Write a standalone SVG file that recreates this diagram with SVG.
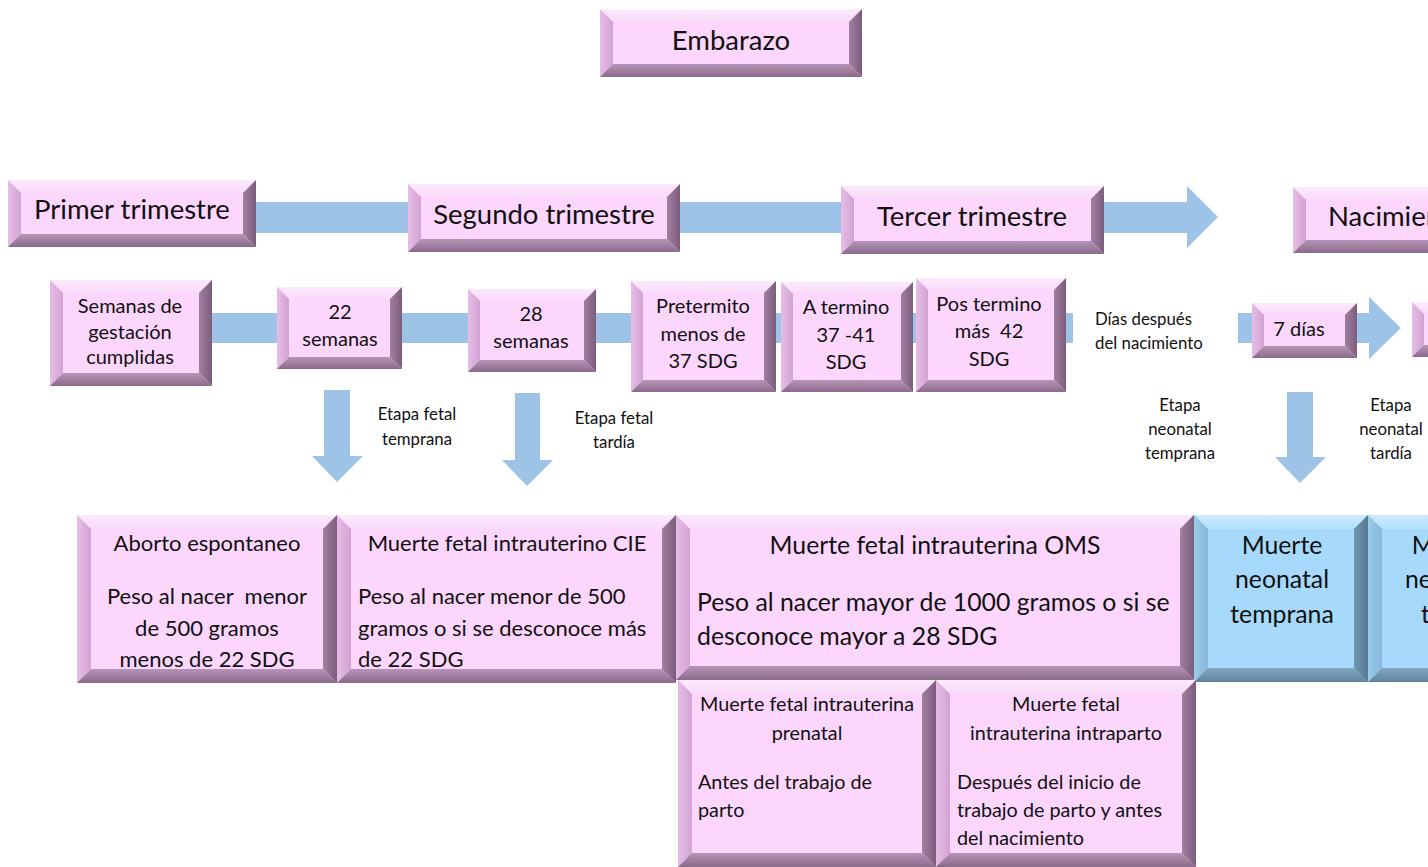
<svg xmlns="http://www.w3.org/2000/svg" width="1428" height="867" viewBox="0 0 1428 867">
<defs>
<linearGradient id="gL" x1="0" y1="0" x2="1" y2="0"><stop offset="0" stop-color="#E6BDE6"/><stop offset="1" stop-color="#D2A2D2"/></linearGradient>
<linearGradient id="gR" x1="0" y1="0" x2="1" y2="0"><stop offset="0" stop-color="#A17FA1"/><stop offset="1" stop-color="#7C5C7C"/></linearGradient>
<linearGradient id="gB" x1="0" y1="0" x2="0" y2="1"><stop offset="0" stop-color="#B794B7"/><stop offset="1" stop-color="#8A6A8A"/></linearGradient>
<linearGradient id="gT" x1="0" y1="0" x2="0" y2="1"><stop offset="0" stop-color="#FCEAFC"/><stop offset="1" stop-color="#FADAFA"/></linearGradient>
<linearGradient id="bL" x1="0" y1="0" x2="1" y2="0"><stop offset="0" stop-color="#9BCBEB"/><stop offset="1" stop-color="#86B7D8"/></linearGradient>
<linearGradient id="bR" x1="0" y1="0" x2="1" y2="0"><stop offset="0" stop-color="#7396B0"/><stop offset="1" stop-color="#557A94"/></linearGradient>
<linearGradient id="bB" x1="0" y1="0" x2="0" y2="1"><stop offset="0" stop-color="#82A7C2"/><stop offset="1" stop-color="#5F849E"/></linearGradient>
<linearGradient id="bT" x1="0" y1="0" x2="0" y2="1"><stop offset="0" stop-color="#CDEBFF"/><stop offset="1" stop-color="#B3E0FD"/></linearGradient>
</defs>
<style>
.face{fill:#FDD6FD}
.t{fill:url(#gT)} .l{fill:url(#gL)} .r{fill:url(#gR)} .b{fill:url(#gB)}
.bface{fill:#A6D9FB}
.bt{fill:url(#bT)} .bl{fill:url(#bL)} .br{fill:url(#bR)} .bb{fill:url(#bB)}
.arr{fill:#9DC3E6}
text{font-family:Lato,"Liberation Sans",sans-serif;fill:#111}
.c{text-anchor:middle}
.f26{font-size:27.5px}
.f19{font-size:20px}
.f15{font-size:16.8px}
.f20{font-size:22px}
.f23{font-size:24.8px}
.f18{font-size:19.8px}
</style>
<rect width="1428" height="867" fill="#FFFFFF"/>
<g id="connectors">
<polygon class="arr" points="8,202 1187,202 1187,186 1218,217 1187,248 1187,233 8,233"/>
<rect class="arr" x="60" y="313" width="1013" height="30"/>
<polygon class="arr" points="1238,313 1369,313 1369,297 1401,328 1369,359 1369,343 1238,343"/>
<polygon class="arr" points="324,390 350,390 350,456 363,456 337,482 312,456 324,456"/>
<polygon class="arr" points="515,393 540,393 540,460 553,460 527,486 502,460 515,460"/>
<polygon class="arr" points="1287,392 1313,392 1313,457 1326,457 1300,483 1275,457 1287,457"/>
</g>
<g id="labels">
<text class="c f15" x="417" y="420">Etapa fetal</text>
<text class="c f15" x="417" y="445">temprana</text>
<text class="c f15" x="614" y="424">Etapa fetal</text>
<text class="c f15" x="614" y="448">tardía</text>
<text class="f15" x="1095" y="325">Días después</text>
<text class="f15" x="1095" y="349">del nacimiento</text>
<text class="c f15" x="1180" y="411">Etapa</text>
<text class="c f15" x="1180" y="435">neonatal</text>
<text class="c f15" x="1180" y="459">temprana</text>
<text class="c f15" x="1391" y="411">Etapa</text>
<text class="c f15" x="1391" y="435">neonatal</text>
<text class="c f15" x="1391" y="459">tardía</text>
</g>
<g id="embarazo">
<rect class="face" x="600" y="9" width="262" height="68"/>
<polygon class="t" points="600,9 862,9 849,22 613,22"/>
<polygon class="l" points="600,9 613,22 613,64 600,77"/>
<polygon class="r" points="862,9 862,77 849,64 849,22"/>
<polygon class="b" points="600,77 613,64 849,64 862,77"/>
<text class="c f26" x="731" y="50">Embarazo</text>
</g>
<g id="primer">
<rect class="face" x="8" y="180" width="248" height="67"/>
<polygon class="t" points="8,180 256,180 243,193 21,193"/>
<polygon class="l" points="8,180 21,193 21,234 8,247"/>
<polygon class="r" points="256,180 256,247 243,234 243,193"/>
<polygon class="b" points="8,247 21,234 243,234 256,247"/>
<text class="c f26" x="132" y="219">Primer trimestre</text>
</g>
<g id="segundo">
<rect class="face" x="408" y="184" width="272" height="68"/>
<polygon class="t" points="408,184 680,184 667,197 421,197"/>
<polygon class="l" points="408,184 421,197 421,239 408,252"/>
<polygon class="r" points="680,184 680,252 667,239 667,197"/>
<polygon class="b" points="408,252 421,239 667,239 680,252"/>
<text class="c f26" x="544" y="224">Segundo trimestre</text>
</g>
<g id="tercer">
<rect class="face" x="841" y="186" width="263" height="68"/>
<polygon class="t" points="841,186 1104,186 1091,199 854,199"/>
<polygon class="l" points="841,186 854,199 854,241 841,254"/>
<polygon class="r" points="1104,186 1104,254 1091,241 1091,199"/>
<polygon class="b" points="841,254 854,241 1091,241 1104,254"/>
<text class="c f26" x="972" y="226">Tercer trimestre</text>
</g>
<g id="nacimiento">
<rect class="face" x="1293" y="187" width="260" height="66"/>
<polygon class="t" points="1293,187 1553,187 1540,200 1306,200"/>
<polygon class="l" points="1293,187 1306,200 1306,240 1293,253"/>
<polygon class="r" points="1553,187 1553,253 1540,240 1540,200"/>
<polygon class="b" points="1293,253 1306,240 1540,240 1553,253"/>
<text class="f26" x="1328" y="226">Nacimiento</text>
</g>
<g id="semanas">
<rect class="face" x="50" y="280" width="162" height="106"/>
<polygon class="t" points="50,280 212,280 199,293 63,293"/>
<polygon class="l" points="50,280 63,293 63,373 50,386"/>
<polygon class="r" points="212,280 212,386 199,373 199,293"/>
<polygon class="b" points="50,386 63,373 199,373 212,386"/>
<text class="c f19" x="130" y="313">Semanas de</text>
<text class="c f19" x="130" y="339">gestación</text>
<text class="c f19" x="130" y="364">cumplidas</text>
</g>
<g id="s22">
<rect class="face" x="277" y="287" width="125" height="82"/>
<polygon class="t" points="277,287 402,287 390,299 289,299"/>
<polygon class="l" points="277,287 289,299 289,357 277,369"/>
<polygon class="r" points="402,287 402,369 390,357 390,299"/>
<polygon class="b" points="277,369 289,357 390,357 402,369"/>
<text class="c f19" x="340" y="319">22</text>
<text class="c f19" x="340" y="346">semanas</text>
</g>
<g id="s28">
<rect class="face" x="468" y="289" width="128" height="83"/>
<polygon class="t" points="468,289 596,289 584,301 480,301"/>
<polygon class="l" points="468,289 480,301 480,360 468,372"/>
<polygon class="r" points="596,289 596,372 584,360 584,301"/>
<polygon class="b" points="468,372 480,360 584,360 596,372"/>
<text class="c f19" x="531" y="321">28</text>
<text class="c f19" x="531" y="348">semanas</text>
</g>
<g id="pretermito">
<rect class="face" x="631" y="281" width="145" height="111"/>
<polygon class="t" points="631,281 776,281 764,293 643,293"/>
<polygon class="l" points="631,281 643,293 643,380 631,392"/>
<polygon class="r" points="776,281 776,392 764,380 764,293"/>
<polygon class="b" points="631,392 643,380 764,380 776,392"/>
<text class="c f19" x="703" y="313">Pretermito</text>
<text class="c f19" x="703" y="341">menos de</text>
<text class="c f19" x="703" y="368">37 SDG</text>
</g>
<g id="atermino">
<rect class="face" x="781" y="282" width="132" height="110"/>
<polygon class="t" points="781,282 913,282 901,294 793,294"/>
<polygon class="l" points="781,282 793,294 793,380 781,392"/>
<polygon class="r" points="913,282 913,392 901,380 901,294"/>
<polygon class="b" points="781,392 793,380 901,380 913,392"/>
<text class="c f19" x="846" y="314">A termino</text>
<text class="c f19" x="846" y="342">37 -41</text>
<text class="c f19" x="846" y="369">SDG</text>
</g>
<g id="postermino">
<rect class="face" x="916" y="278" width="150" height="114"/>
<polygon class="t" points="916,278 1066,278 1054,290 928,290"/>
<polygon class="l" points="916,278 928,290 928,380 916,392"/>
<polygon class="r" points="1066,278 1066,392 1054,380 1054,290"/>
<polygon class="b" points="916,392 928,380 1054,380 1066,392"/>
<text class="c f19" x="989" y="311">Pos termino</text>
<text class="c f19" x="989" y="338" xml:space="preserve">más  42</text>
<text class="c f19" x="989" y="366">SDG</text>
</g>
<g id="dias7">
<rect class="face" x="1252" y="303" width="105" height="55"/>
<polygon class="t" points="1252,303 1357,303 1345,315 1264,315"/>
<polygon class="l" points="1252,303 1264,315 1264,346 1252,358"/>
<polygon class="r" points="1357,303 1357,358 1345,346 1345,315"/>
<polygon class="b" points="1252,358 1264,346 1345,346 1357,358"/>
<text class="c f19" x="1299" y="336">7 días</text>
</g>
<g id="dias28">
<rect class="face" x="1412" y="302" width="105" height="55"/>
<polygon class="t" points="1412,302 1517,302 1505,314 1424,314"/>
<polygon class="l" points="1412,302 1424,314 1424,345 1412,357"/>
<polygon class="r" points="1517,302 1517,357 1505,345 1505,314"/>
<polygon class="b" points="1412,357 1424,345 1505,345 1517,357"/>
</g>
<g id="aborto">
<rect class="face" x="77" y="515" width="260" height="168"/>
<polygon class="t" points="77,515 337,515 323,529 91,529"/>
<polygon class="l" points="77,515 91,529 91,669 77,683"/>
<polygon class="r" points="337,515 337,683 323,669 323,529"/>
<polygon class="b" points="77,683 91,669 323,669 337,683"/>
<text class="c f20" x="207" y="551">Aborto espontaneo</text>
<text class="c f20" x="207" y="604" xml:space="preserve">Peso al nacer  menor</text>
<text class="c f20" x="207" y="636">de 500 gramos</text>
<text class="c f20" x="207" y="667">menos de 22 SDG</text>
</g>
<g id="cie">
<rect class="face" x="337" y="515" width="339" height="168"/>
<polygon class="t" points="337,515 676,515 662,529 351,529"/>
<polygon class="l" points="337,515 351,529 351,669 337,683"/>
<polygon class="r" points="676,515 676,683 662,669 662,529"/>
<polygon class="b" points="337,683 351,669 662,669 676,683"/>
<text class="c f20" x="507" y="551">Muerte fetal intrauterino CIE</text>
<text class="f20" x="358" y="604">Peso al nacer menor de 500</text>
<text class="f20" x="358" y="636">gramos o si se desconoce más</text>
<text class="f20" x="358" y="667">de 22 SDG</text>
</g>
<g id="oms">
<rect class="face" x="676" y="515" width="518" height="165"/>
<polygon class="t" points="676,515 1194,515 1180,529 690,529"/>
<polygon class="l" points="676,515 690,529 690,666 676,680"/>
<polygon class="r" points="1194,515 1194,680 1180,666 1180,529"/>
<polygon class="b" points="676,680 690,666 1180,666 1194,680"/>
<text class="c f23" x="935" y="554">Muerte fetal intrauterina OMS</text>
<text class="f23" x="697" y="611">Peso al nacer mayor de 1000 gramos o si se</text>
<text class="f23" x="697" y="645">desconoce mayor a 28 SDG</text>
</g>
<g id="neonatal-temprana">
<rect class="bface" x="1194" y="515" width="174" height="167"/>
<polygon class="bt" points="1194,515 1368,515 1354,529 1208,529"/>
<polygon class="bl" points="1194,515 1208,529 1208,668 1194,682"/>
<polygon class="br" points="1368,515 1368,682 1354,668 1354,529"/>
<polygon class="bb" points="1194,682 1208,668 1354,668 1368,682"/>
<text class="c f23" x="1282" y="554">Muerte</text>
<text class="c f23" x="1282" y="588">neonatal</text>
<text class="c f23" x="1282" y="623">temprana</text>
</g>
<g id="neonatal-tardia">
<rect class="bface" x="1368" y="515" width="174" height="167"/>
<polygon class="bt" points="1368,515 1542,515 1528,529 1382,529"/>
<polygon class="bl" points="1368,515 1382,529 1382,668 1368,682"/>
<polygon class="br" points="1542,515 1542,682 1528,668 1528,529"/>
<polygon class="bb" points="1368,682 1382,668 1528,668 1542,682"/>
<text class="c f23" x="1452" y="554">Muerte</text>
<text class="c f23" x="1452" y="588">neonatal</text>
<text class="c f23" x="1452" y="623">tardía</text>
</g>
<g id="prenatal">
<rect class="face" x="678" y="680" width="258" height="187"/>
<polygon class="t" points="678,680 936,680 922,694 692,694"/>
<polygon class="l" points="678,680 692,694 692,853 678,867"/>
<polygon class="r" points="936,680 936,867 922,853 922,694"/>
<polygon class="b" points="678,867 692,853 922,853 936,867"/>
<text class="c f18" x="807" y="711">Muerte fetal intrauterina</text>
<text class="c f18" x="807" y="740">prenatal</text>
<text class="f18" x="698" y="789">Antes del trabajo de</text>
<text class="f18" x="698" y="817">parto</text>
</g>
<g id="intraparto">
<rect class="face" x="936" y="680" width="260" height="187"/>
<polygon class="t" points="936,680 1196,680 1182,694 950,694"/>
<polygon class="l" points="936,680 950,694 950,853 936,867"/>
<polygon class="r" points="1196,680 1196,867 1182,853 1182,694"/>
<polygon class="b" points="936,867 950,853 1182,853 1196,867"/>
<text class="c f18" x="1066" y="711">Muerte fetal</text>
<text class="c f18" x="1066" y="740">intrauterina intraparto</text>
<text class="f18" x="957" y="789">Después del inicio de</text>
<text class="f18" x="957" y="817">trabajo de parto y antes</text>
<text class="f18" x="957" y="845">del nacimiento</text>
</g>
</svg>
